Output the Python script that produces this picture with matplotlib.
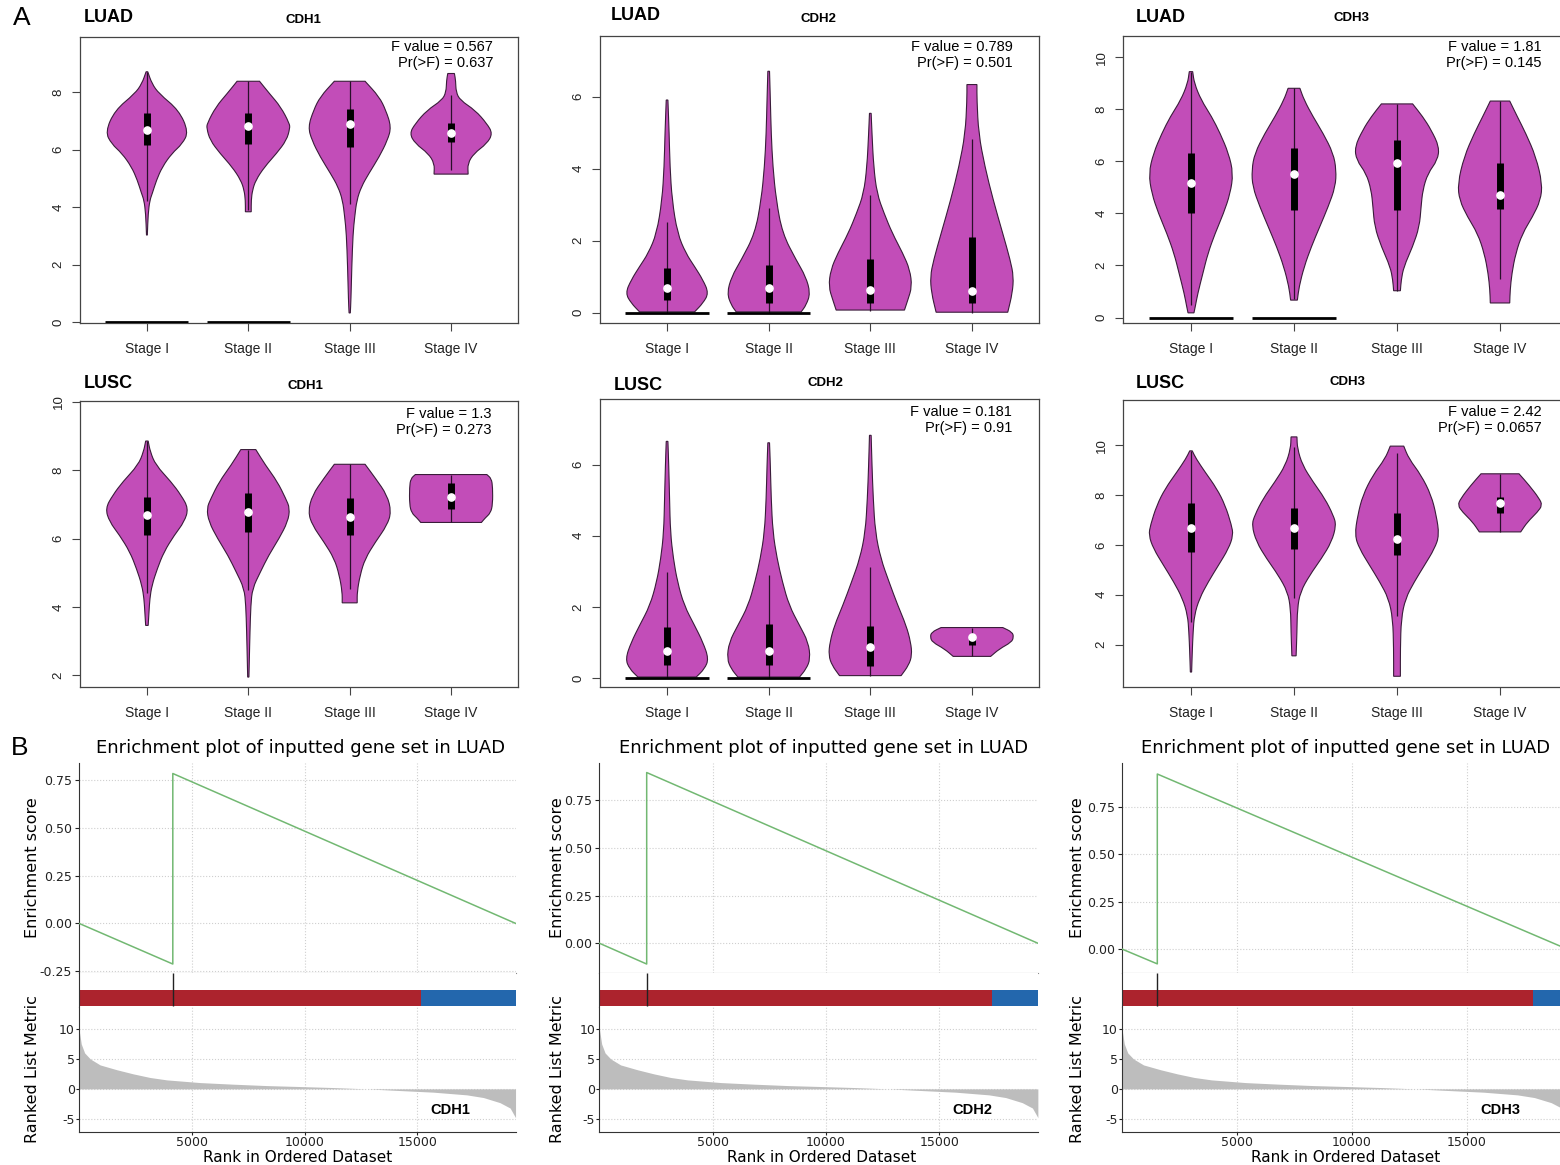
import numpy as np
import matplotlib.pyplot as plt
from matplotlib.path import Path
from matplotlib.patches import PathPatch

W, H = 1560, 1165
plt.rcParams.update({
    "font.family": ["Liberation Sans", "DejaVu Sans"],
    "axes.unicode_minus": False,
})
NARROW = ["Liberation Sans Narrow", "Liberation Sans", "DejaVu Sans"]

STAGES = ["Stage I", "Stage II", "Stage III", "Stage IV"]

# ---- violin outlines: (expression, relative half-width) per stage ----
LUAD_CDH1 = [
    [(8.71, .02), (8.30, .12), (7.95, .29), (7.37, .77), (6.62, 1.0), (6.20, .85), (5.87, .60),
     (5.40, .37), (4.94, .23), (4.48, .13), (4.24, .07), (3.78, .03), (3.03, .01)],
    [(8.38, .27), (7.95, .51), (7.49, .78), (6.91, .99), (6.74, 1.0), (6.33, .92), (5.87, .68),
     (5.40, .39), (4.94, .18), (4.59, .10), (4.24, .07), (3.84, .07)],
    [(8.38, .37), (7.84, .71), (7.37, .87), (6.79, 1.0), (6.33, .91), (5.75, .71), (5.17, .46),
     (4.71, .28), (4.24, .17), (3.66, .12), (3.08, .08), (1.92, .05), (0.77, .03), (0.32, .015)],
    [(8.65, .08), (8.40, .11), (8.00, .12), (7.72, .22), (7.37, .58), (6.91, .86), (6.56, 1.0),
     (6.21, .86), (5.87, .55), (5.52, .40), (5.15, .41)],
]
LUAD_CDH1_BOX = [(4.2, 6.16, 6.68, 7.26, 8.71), (3.9, 6.21, 6.83, 7.29, 8.38),
                 (4.1, 6.10, 6.89, 7.41, 8.38), (5.31, 6.27, 6.59, 6.93, 7.90)]
LUAD_CDH2 = [
    [(5.91, .02), (4.98, .05), (4.06, .07), (3.13, .12), (2.20, .25), (1.65, .45), (1.28, .66),
     (0.91, .86), (0.54, 1.0), (0.26, .86), (0.02, .66)],
    [(6.71, .02), (5.91, .04), (4.98, .06), (4.06, .10), (3.13, .18), (2.20, .33), (1.46, .66),
     (1.00, .89), (0.54, 1.0), (0.21, .90), (0.02, .78)],
    [(5.54, .02), (4.98, .04), (4.06, .08), (3.31, .16), (2.76, .33), (2.20, .53), (1.65, .78),
     (1.19, .95), (0.72, 1.0), (0.35, .90), (0.07, .82)],
    [(6.34, .12), (5.91, .12), (4.98, .16), (4.06, .31), (3.13, .51), (2.20, .74), (1.46, .92),
     (1.00, 1.0), (0.54, .97), (0.01, .86)],
]
LUAD_CDH2_BOX = [(0, 0.35, 0.67, 1.23, 2.53), (0, 0.28, 0.69, 1.32, 2.90),
                 (0.05, 0.28, 0.63, 1.49, 3.27), (0, 0.26, 0.59, 2.09, 4.84)]
LUAD_CDH3 = [
    [(9.45, .04), (9.00, .08), (8.36, .24), (7.72, .49), (7.08, .69), (6.31, .89), (5.54, 1.0),
     (4.77, .93), (4.00, .77), (3.23, .57), (2.46, .40), (1.69, .28), (0.92, .16), (0.41, .10),
     (0.18, .07)],
    [(8.81, .14), (8.36, .24), (7.72, .45), (7.08, .69), (6.31, .93), (5.67, 1.0), (5.03, .98),
     (4.26, .81), (3.49, .61), (2.72, .41), (1.95, .24), (1.18, .12), (0.67, .08)],
    [(8.21, .37), (7.72, .61), (7.21, .81), (6.56, 1.0), (6.05, .96), (5.54, .73), (4.90, .61),
     (4.26, .57), (3.49, .53), (2.72, .37), (1.95, .16), (1.44, .10), (1.03, .08)],
    [(8.32, .23), (7.72, .41), (7.08, .61), (6.18, .85), (5.15, 1.0), (4.51, .96), (3.87, .77),
     (3.23, .53), (2.46, .37), (1.69, .28), (1.05, .24), (0.56, .23)],
]
LUAD_CDH3_BOX = [(0.5, 4.00, 5.18, 6.31, 9.45), (0.7, 4.15, 5.50, 6.50, 8.81),
                 (1.03, 4.13, 5.92, 6.82, 8.21), (1.5, 4.19, 4.71, 5.95, 8.32)]
LUSC_CDH1 = [
    [(8.85, .03), (8.54, .08), (8.15, .21), (7.66, .58), (7.27, .82), (6.88, 1.0), (6.49, .90),
     (6.10, .66), (5.61, .41), (5.12, .25), (4.63, .12), (4.24, .07), (3.85, .05), (3.46, .03)],
    [(8.60, .18), (8.15, .41), (7.66, .70), (7.17, .90), (6.88, 1.0), (6.49, .95), (6.00, .74),
     (5.51, .49), (5.02, .29), (4.54, .10), (4.05, .06), (3.27, .04), (2.49, .025), (1.95, .015)],
    [(8.17, .37), (7.76, .62), (7.27, .90), (6.78, 1.0), (6.39, .90), (5.90, .62), (5.41, .37),
     (4.93, .25), (4.44, .18), (4.12, .18)],
    [(7.87, .86), (7.75, .97), (7.50, 1.0), (7.00, 1.0), (6.75, .95), (6.60, .82), (6.47, .73)],
]
LUSC_CDH1_BOX = [(4.4, 6.10, 6.68, 7.20, 8.85), (4.5, 6.20, 6.78, 7.32, 8.60),
                 (4.52, 6.10, 6.63, 7.17, 8.17), (6.47, 6.85, 7.22, 7.61, 7.85)]
LUSC_CDH2 = [
    [(6.65, .02), (5.98, .04), (5.04, .06), (4.10, .08), (3.36, .15), (2.70, .25), (2.04, .41),
     (1.48, .66), (1.01, .86), (0.54, 1.0), (0.26, .90), (0.03, .70)],
    [(6.61, .02), (5.98, .04), (5.04, .06), (4.10, .10), (3.36, .20), (2.70, .33), (2.04, .49),
     (1.48, .74), (1.01, .95), (0.54, 1.0), (0.26, .90), (0.03, .74)],
    [(6.82, .02), (5.98, .04), (5.04, .07), (4.10, .12), (3.36, .25), (2.70, .45), (2.04, .66),
     (1.48, .86), (1.01, .97), (0.64, 1.0), (0.36, .92), (0.07, .74)],
    [(1.42, .74), (1.29, .97), (1.15, 1.0), (1.01, .95), (0.82, .66), (0.61, .45)],
]
LUSC_CDH2_BOX = [(0, 0.38, 0.76, 1.43, 2.98), (0, 0.38, 0.75, 1.53, 2.89),
                 (0.07, 0.34, 0.87, 1.45, 3.12), (0.61, 0.94, 1.15, 1.18, 1.42)]
LUSC_CDH3 = [
    [(9.77, .03), (9.46, .12), (8.93, .33), (8.26, .61), (7.59, .81), (6.79, .96), (6.39, 1.0),
     (5.85, .89), (5.18, .65), (4.52, .41), (3.85, .20), (3.18, .08), (2.51, .05), (1.71, .03),
     (0.90, .015)],
    [(10.33, .07), (9.87, .08), (9.20, .20), (8.53, .45), (7.86, .73), (7.19, .93), (6.79, 1.0),
     (6.12, .89), (5.45, .65), (4.78, .37), (4.11, .15), (3.44, .08), (2.51, .07), (1.55, .05)],
    [(9.96, .16), (9.46, .28), (8.80, .57), (7.99, .81), (7.19, .93), (6.39, 1.0), (5.85, .89),
     (5.18, .65), (4.52, .41), (3.85, .20), (3.04, .10), (1.84, .08), (0.73, .08)],
    [(8.85, .45), (8.39, .69), (7.86, .93), (7.59, 1.0), (7.32, .89), (6.92, .65), (6.52, .49)],
]
LUSC_CDH3_BOX = [(2.9, 5.72, 6.68, 7.66, 9.77), (3.85, 5.83, 6.66, 7.46, 9.93),
                 (3.15, 5.61, 6.25, 7.26, 9.70), (6.52, 7.26, 7.66, 7.90, 8.85)]

F_VALUES = ["0.567", "0.789", "1.81", "1.3", "0.181", "2.42"]
P_VALUES = ["0.637", "0.501", "0.145", "0.273", "0.91", "0.0657"]

# ---- enrichment (shared ranked list, one hit per gene) ----
N_GENES = 19350
RANKS = [0, 100, 250, 500, 935, 1670, 2410, 3150, 3890, 5370, 6850, 8320, 9800, 11280,
         12760, 14230, 15710, 17190, 17930, 18660, 19110, 19350]
METRIC = [10.0, 7.5, 6.0, 5.0, 4.0, 3.2, 2.5, 1.9, 1.5, 1.05, 0.78, 0.55, 0.39, 0.22,
          0.0, -0.28, -0.55, -1.0, -1.45, -2.3, -3.2, -4.8]
GENES = ["CDH1", "CDH2", "CDH3"]
HIT_RANK = [4158, 2087, 1535]
ES_DIP = [-0.213, -0.109, -0.078]
ES_PEAK = [0.785, 0.895, 0.921]
BAR_SPLIT = [15164, 17340, 17880]

VIOLET, VEDGE = "#C24DB8", "#3a1c3a"
HW = 0.41


def box(l, t, r, b):
    return [l / W, 1 - b / H, (r - l) / W, (b - t) / H]


fig = plt.figure(figsize=(W / 100, H / 100), dpi=100)


def ftext(px, py, s, **kw):
    fig.text(px / W, 1 - py / H, s, **kw)


def smooth_side(pts, first_code):
    # quadratic pieces through edge midpoints, keeping both end points fixed
    verts, codes = [pts[0]], [first_code]
    if len(pts) > 2:
        verts.append(((pts[0][0] + pts[1][0]) / 2, (pts[0][1] + pts[1][1]) / 2))
        codes.append(Path.LINETO)
        for i in range(1, len(pts) - 1):
            nxt = pts[i + 1]
            verts += [pts[i], ((pts[i][0] + nxt[0]) / 2, (pts[i][1] + nxt[1]) / 2)]
            codes += [Path.CURVE3, Path.CURVE3]
    verts.append(pts[-1])
    codes.append(Path.LINETO)
    return verts, codes


def violin_patch(pos, prof):
    pts = sorted(prof)
    left = [(pos - w * HW, y) for y, w in pts]
    right = [(pos + w * HW, y) for y, w in pts[::-1]]
    v1, c1 = smooth_side(left, Path.MOVETO)
    v2, c2 = smooth_side(right, Path.LINETO)
    verts = v1 + v2 + [left[0]]
    codes = c1 + c2 + [Path.CLOSEPOLY]
    return PathPatch(Path(verts, codes), facecolor=VIOLET, edgecolor=VEDGE, lw=0.8, zorder=2)


def violin_panel(rect, profiles, boxes, zero_groups, ylim, yticks, cohort, gene, fval, pval,
                 cohort_xy, gene_xy, stat_xy):
    ax = fig.add_axes(box(*rect))
    for i, (prof, (lo, q1, med, q3, hi)) in enumerate(zip(profiles, boxes)):
        pos = i + 1
        ax.add_patch(violin_patch(pos, prof))
        ax.vlines(pos, lo, hi, color="#2a102a", lw=0.9, zorder=3)
        ax.vlines(pos, q1, q3, color="black", lw=5, zorder=4)
        ax.plot(pos, med, "o", ms=5.2, mfc="white", mec="white", zorder=5)
        if i in zero_groups:
            ax.hlines(0, pos - HW, pos + HW, color="black", lw=2, zorder=3)
    ax.set_xlim(0.34, 4.66)
    ax.set_ylim(*ylim)
    ax.set_xticks(range(1, 5))
    ax.set_xticklabels(STAGES)
    ax.set_yticks(yticks)
    ax.set_yticklabels([str(t) for t in yticks])
    for lab in ax.get_yticklabels():
        lab.set_rotation(90)
        lab.set_va("center")
    ax.tick_params(direction="out", length=6, width=0.8, color="#444444", labelsize=9.5,
                   labelcolor="#222222")
    ax.tick_params(axis="x", pad=8, labelsize=10)
    ax.tick_params(axis="y", pad=5)
    for s in ax.spines.values():
        s.set_color("#444444")
        s.set_linewidth(0.9)
    ftext(*cohort_xy, cohort, fontsize=13, fontweight="bold", family=NARROW, va="center")
    ftext(*gene_xy, gene, fontsize=9.5, fontweight="bold", ha="center", va="center")
    ftext(stat_xy[0], stat_xy[1], f"F value = {fval}", fontsize=10.5, ha="right", va="center")
    ftext(stat_xy[0], stat_xy[1] + 16, f"Pr(>F) = {pval}", fontsize=10.5, ha="right", va="center")
    return ax


violin_panel((80, 37, 518, 323), LUAD_CDH1, LUAD_CDH1_BOX, [0, 1], (-0.03, 9.92), [0, 2, 4, 6, 8],
             "LUAD", "CDH1", F_VALUES[0], P_VALUES[0], (84, 18), (303, 20), (493, 47))
violin_panel((600, 36, 1039, 323), LUAD_CDH2, LUAD_CDH2_BOX, [0, 1], (-0.29, 7.69), [0, 2, 4, 6],
             "LUAD", "CDH2", F_VALUES[1], P_VALUES[1], (611, 16), (818, 19), (1013, 47))
violin_panel((1123, 36, 1568, 323), LUAD_CDH3, LUAD_CDH3_BOX, [0, 1], (-0.21, 10.82),
             [0, 2, 4, 6, 8, 10], "LUAD", "CDH3", F_VALUES[2], P_VALUES[2],
             (1136, 17), (1352, 18), (1542, 47))
violin_panel((80, 401, 518, 687), LUSC_CDH1, LUSC_CDH1_BOX, [], (1.66, 10.02), [2, 4, 6, 8, 10],
             "LUSC", "CDH1", F_VALUES[3], P_VALUES[3], (84, 384), (305, 386), (492, 414))
violin_panel((600, 399, 1039, 687), LUSC_CDH2, LUSC_CDH2_BOX, [0, 1], (-0.25, 7.84), [0, 2, 4, 6],
             "LUSC", "CDH2", F_VALUES[4], P_VALUES[4], (614, 385), (825, 383), (1012, 412))
violin_panel((1123, 400, 1568, 687), LUSC_CDH3, LUSC_CDH3_BOX, [], (0.30, 11.81), [2, 4, 6, 8, 10],
             "LUSC", "CDH3", F_VALUES[5], P_VALUES[5], (1136, 384), (1347, 382), (1542, 412))

ftext(22, 18, "A", fontsize=19, ha="center", va="center")
ftext(20, 748, "B", fontsize=19, ha="center", va="center")

# ---- enrichment plots ----
DV = "DejaVu Sans"
GRID = dict(color="#cfcfcf", ls=":", lw=0.8)
col_left = [79, 599.4, 1122]
px_per_rank = [0.02256, 0.02266, 0.0230]
es_lims = [(-0.26, 0.84), (-0.156, 0.945), (-0.126, 0.979)]
title_x = [301, 824, 1346]
label_x = [33, 557, 1078]
axis_label_x = [298, 822, 1346]
xt = [5000, 10000, 15000]

for k in range(3):
    l = col_left[k]
    r = l + N_GENES * px_per_rank[k]

    ax1 = fig.add_axes(box(l, 763, r, 973))
    ax1.plot([0, HIT_RANK[k], HIT_RANK[k], N_GENES], [0, ES_DIP[k], ES_PEAK[k], 0],
             color="#72b872", lw=1.1, zorder=3)
    ax1.set_xlim(0, N_GENES)
    ax1.set_ylim(*es_lims[k])
    yt = [t for t in [-0.25, 0.0, 0.25, 0.5, 0.75] if es_lims[k][0] <= t <= es_lims[k][1]]
    ax1.set_yticks(yt)
    ax1.set_yticklabels([f"{t:.2f}" for t in yt], family=DV)
    ax1.set_xticks(xt)
    ax1.set_xticklabels([])
    ax1.tick_params(axis="x", length=0)
    ax1.tick_params(axis="y", length=3, labelsize=9, colors="#222222", pad=2)
    ax1.grid(True, **GRID)
    for s in ("top", "right"):
        ax1.spines[s].set_visible(False)
    ax1.spines["bottom"].set_color("#8a8a8a")
    ax1.spines["left"].set_color("#333333")

    ax2 = fig.add_axes(box(l, 973, r, 1007))
    ax2.set_xlim(0, N_GENES)
    ax2.set_ylim(0, 1)
    ax2.broken_barh([(0, BAR_SPLIT[k]), (BAR_SPLIT[k], N_GENES - BAR_SPLIT[k])], (0.03, 0.47),
                    facecolors=["#ac232d", "#2367ad"], zorder=2)
    ax2.vlines(HIT_RANK[k], 0.03, 1, color="#222222", lw=1, zorder=3)
    ax2.set_xticks([])
    ax2.set_yticks([])
    for s in ("top", "right", "bottom"):
        ax2.spines[s].set_visible(False)
    ax2.spines["left"].set_color("#333333")

    ax3 = fig.add_axes(box(l, 1007, r, 1132))
    ax3.fill_between(RANKS, METRIC, 0, color="#bdbdbd", lw=0, zorder=2)
    ax3.set_xlim(0, N_GENES)
    ax3.set_ylim(-7.2, 13.67)
    ax3.set_yticks([-5, 0, 5, 10])
    ax3.set_yticklabels(["-5", "0", "5", "10"], family=DV)
    ax3.set_xticks(xt)
    ax3.set_xticklabels([str(t) for t in xt], family=DV)
    ax3.tick_params(length=2, labelsize=9, colors="#222222", pad=1)
    ax3.grid(True, **GRID)
    for s in ("top", "right"):
        ax3.spines[s].set_visible(False)
    ax3.spines["left"].set_color("#333333")
    ax3.spines["bottom"].set_color("#333333")
    ax3.text(16450, -3.6, GENES[k], fontsize=10.5, fontweight="bold", family=NARROW,
             ha="center", va="center", zorder=4)

    ftext(title_x[k], 748, "Enrichment plot of inputted gene set in LUAD", fontsize=13,
          family=DV, ha="center", va="center")
    ftext(label_x[k], 868, "Enrichment score", fontsize=11.5, family=DV, rotation=90,
          ha="center", va="center")
    ftext(label_x[k], 1069, "Ranked List Metric", fontsize=11.5, family=DV, rotation=90,
          ha="center", va="center")
    ftext(axis_label_x[k], 1157, "Rank in Ordered Dataset", fontsize=11, family=DV,
          ha="center", va="center")

fig.savefig("out.png", dpi=100, facecolor="white")
